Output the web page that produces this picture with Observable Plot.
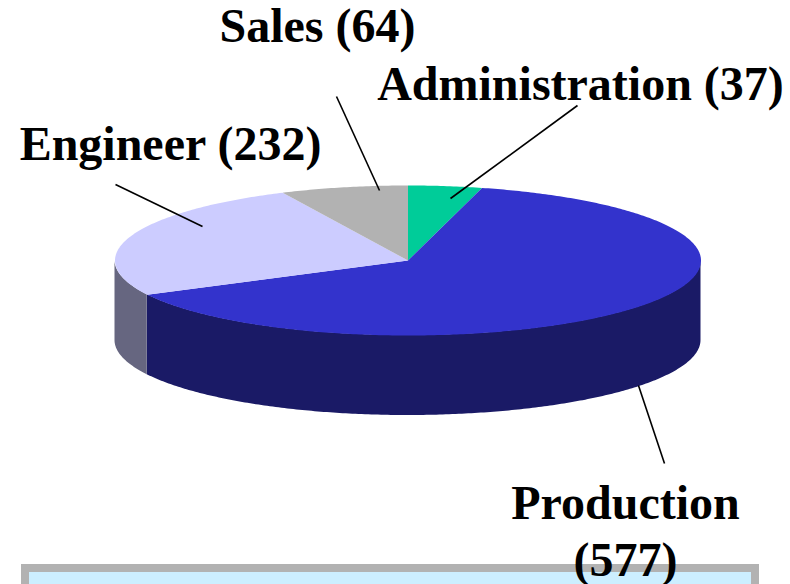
<!DOCTYPE html>
<html><head><meta charset="utf-8">
<style>html,body{margin:0;padding:0;background:#fff;overflow:hidden}svg{display:block}</style>
<script src="https://cdn.jsdelivr.net/npm/d3@7"></script>
<script src="https://cdn.jsdelivr.net/npm/@observablehq/plot@0.6"></script>
</head><body><div id="chart"></div>
<script>
const categories = ["Administration", "Production", "Engineer", "Sales"];
const values = [37, 577, 232, 64];
const topColors = ["#00cc99", "#3333cc", "#ccccff", "#b2b2b2"];
const sideColors = ["#006b50", "#1a1a66", "#666680", "#595959"];
const labelText = ["Administration (37)", "Production\n(577)", "Engineer (232)", "Sales (64)"];
const labelX = [580, 625, 170, 317];
const labelY = [81, 528.5, 141, 23];
const leaderFromX = [577, 664, 115, 336];
const leaderFromY = [105, 463, 184, 96];
const leaderToX = [450, 638, 202, 379];
const leaderToY = [198, 385, 226, 190];

// pie geometry
const cx = 407.5, cy = 260, rx = 293, ry = 75, depth = 80;
const total = d3.sum(values);
let cum = 0;
const slices = categories.map((name, i) => {
  const a0 = cum / total * 2 * Math.PI;
  cum += values[i];
  return {name, a0, a1: cum / total * 2 * Math.PI};
});
const px = a => cx + rx * Math.sin(a);
const py = a => cy - ry * Math.cos(a);
const arc = (a0, a1) => {
  const n = Math.max(2, Math.ceil((a1 - a0) * 90));
  return d3.range(n + 1).map(k => a0 + (a1 - a0) * k / n);
};
const tops = slices.flatMap(s => [
  {name: s.name, x: cx, y: cy},
  ...arc(s.a0, s.a1).map(a => ({name: s.name, x: px(a), y: py(a)}))
]);
const sides = slices.flatMap(s => {
  const a0 = Math.max(s.a0, Math.PI / 2), a1 = Math.min(s.a1, 3 * Math.PI / 2);
  if (a1 <= a0) return [];
  return arc(a0, a1).map(a => ({name: s.name, x: px(a), y1: py(a), y2: py(a) + depth}));
});
const fillOf = (list, name) => list[categories.indexOf(name)];
const labels = categories.map((name, i) => ({text: labelText[i], x: labelX[i], y: labelY[i]}));
const leaders = categories.map((name, i) => ({x1: leaderFromX[i], y1: leaderFromY[i], x2: leaderToX[i], y2: leaderToY[i]}));

const plot = Plot.plot({
  width: 790, height: 584,
  margin: 0,
  x: {domain: [0, 790], range: [0, 790], axis: null},
  y: {domain: [0, 584], range: [0, 584], axis: null},
  style: {background: "#fff"},
  marks: [
    Plot.rect([{x1: 25, x2: 755, y1: 568, y2: 600}], {x1: "x1", x2: "x2", y1: "y1", y2: "y2", fill: "#cceeff", stroke: "#b2b2b2", strokeWidth: 8}),
    ...categories.map(name => Plot.areaY(sides.filter(d => d.name === name), {x: "x", y1: "y1", y2: "y2", fill: fillOf(sideColors, name)})),
    ...categories.map(name => Plot.line(tops.filter(d => d.name === name), {x: "x", y: "y", fill: fillOf(topColors, name), stroke: null, curve: "linear"})),
    Plot.link(leaders, {x1: "x1", y1: "y1", x2: "x2", y2: "y2", stroke: "#000", strokeWidth: 1.6}),
    Plot.text(labels, {x: "x", y: "y", text: "text", fontFamily: "Liberation Serif", fontWeight: "bold", fontSize: 48, lineHeight: 1.195, fill: "#000", lineAnchor: "middle"})
  ]
});
document.getElementById("chart").appendChild(plot);
</script></body></html>
